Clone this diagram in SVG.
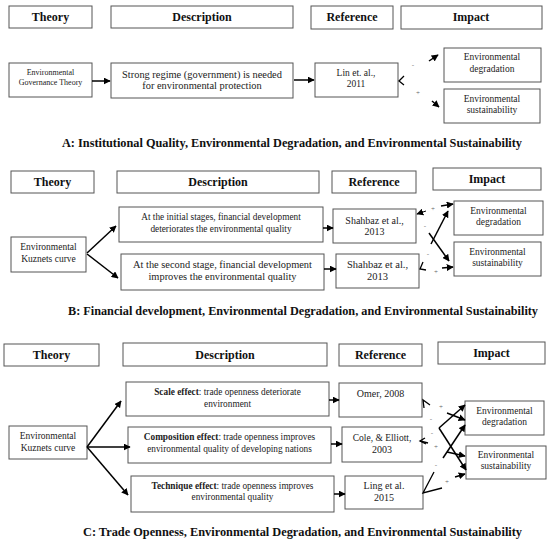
<svg xmlns="http://www.w3.org/2000/svg" width="550" height="542" viewBox="0 0 550 542">
<defs>
<style>
.box{fill:#fff;stroke:#555;stroke-width:1}
.hd{font-family:"Liberation Serif","Times New Roman",serif;font-weight:bold;font-size:12px;text-anchor:middle;fill:#111}
.t{font-family:"Liberation Serif","Times New Roman",serif;text-anchor:middle;fill:#222}
.cap{font-family:"Liberation Serif","Times New Roman",serif;font-weight:bold;font-size:12px;fill:#111}
.ar{stroke:#000;stroke-width:1.5;fill:none;marker-end:url(#ah)}
.ln{stroke:#000;stroke-width:1.3;fill:none}
.sg{font-family:"Liberation Serif",serif;font-size:7px;fill:#666;text-anchor:middle}
</style>
<marker id="ah" viewBox="0 0 10 10" refX="9" refY="5" markerWidth="7" markerHeight="7" markerUnits="userSpaceOnUse" orient="auto">
<path d="M0,0 L10,5 L0,10 z" fill="#000"/>
</marker>
</defs>
<rect width="550" height="542" fill="#fff"/>

<!-- Panel A -->
<g id="A-headers">
<rect class="box" x="9" y="6" width="83" height="22"/><text class="hd" x="50.5" y="21">Theory</text>
<rect class="box" x="111" y="6" width="182" height="22"/><text class="hd" x="202" y="21">Description</text>
<rect class="box" x="311" y="6" width="82" height="23"/><text class="hd" x="352" y="21">Reference</text>
<rect class="box" x="401" y="6" width="141" height="23"/><text class="hd" x="471" y="21">Impact</text>
</g>
<g id="A-theory"><rect class="box" x="9" y="63" width="83" height="34"/>
<text class="t" font-size="8" x="50.5" y="74.5">Environmental</text><text class="t" font-size="8" x="50.5" y="84.5">Governance Theory</text></g>
<g id="A-desc"><rect class="box" x="111" y="63" width="182" height="35"/>
<text class="t" font-size="10.4" x="202" y="77.5">Strong regime (government) is needed</text><text class="t" font-size="10.4" x="202" y="88.5">for environmental protection</text></g>
<g id="A-ref"><rect class="box" x="315" y="63" width="83" height="34"/>
<text class="t" font-size="9.5" x="356" y="76">Lin et. al.,</text><text class="t" font-size="9.5" x="356" y="86.5">2011</text></g>
<g id="A-deg"><rect class="box" x="444" y="48" width="97" height="34"/>
<text class="t" font-size="9.5" x="492" y="60">Environmental</text><text class="t" font-size="9.5" x="492" y="72">degradation</text></g>
<g id="A-sus"><rect class="box" x="444" y="89" width="96" height="34"/>
<text class="t" font-size="9.5" x="492" y="102">Environmental</text><text class="t" font-size="9.5" x="492" y="113">sustainability</text></g>
<text class="cap" x="62" y="147" textLength="460" lengthAdjust="spacingAndGlyphs">A: Institutional Quality, Environmental Degradation, and Environmental Sustainability</text>

<!-- Panel B -->
<g id="B-headers">
<rect class="box" x="11" y="171" width="83" height="22"/><text class="hd" x="52.5" y="186">Theory</text>
<rect class="box" x="117" y="171" width="202" height="22"/><text class="hd" x="218" y="186">Description</text>
<rect class="box" x="332" y="171" width="84" height="22"/><text class="hd" x="374" y="186">Reference</text>
<rect class="box" x="433" y="168" width="108" height="22"/><text class="hd" x="487" y="183">Impact</text>
</g>
<g id="B-theory"><rect class="box" x="11" y="237" width="75" height="35"/>
<text class="t" font-size="9.5" x="48.5" y="250">Environmental</text><text class="t" font-size="9.5" x="48.5" y="262">Kuznets curve</text></g>
<g id="B-desc1"><rect class="box" x="119" y="207" width="204" height="35"/>
<text class="t" font-size="9.3" x="221" y="220">At the initial stages, financial development</text><text class="t" font-size="9.3" x="221" y="231.5">deteriorates the environmental quality</text></g>
<g id="B-desc2"><rect class="box" x="121" y="254" width="203" height="36"/>
<text class="t" font-size="10.4" x="222.5" y="268">At the second stage, financial development</text><text class="t" font-size="10.4" x="222.5" y="280">improves the environmental quality</text></g>
<g id="B-ref1"><rect class="box" x="333" y="209" width="83" height="34"/>
<text class="t" font-size="10" x="374.5" y="223.5">Shahbaz et al.,</text><text class="t" font-size="10" x="374.5" y="235">2013</text></g>
<g id="B-ref2"><rect class="box" x="336" y="254" width="83" height="34"/>
<text class="t" font-size="10.5" x="377.5" y="268">Shahbaz et al.,</text><text class="t" font-size="10.5" x="377.5" y="280">2013</text></g>
<g id="B-deg"><rect class="box" x="454" y="201" width="89" height="34"/>
<text class="t" font-size="9.5" x="498.5" y="214">Environmental</text><text class="t" font-size="9.5" x="498.5" y="224.5">degradation</text></g>
<g id="B-sus"><rect class="box" x="454" y="242" width="87" height="34"/>
<text class="t" font-size="9.5" x="497.5" y="255">Environmental</text><text class="t" font-size="9.5" x="497.5" y="266">sustainability</text></g>
<text class="cap" x="68" y="315" textLength="470" lengthAdjust="spacingAndGlyphs">B: Financial development, Environmental Degradation, and Environmental Sustainability</text>

<!-- Panel C -->
<g id="C-headers">
<rect class="box" x="4" y="344" width="95" height="22"/><text class="hd" x="51.5" y="359">Theory</text>
<rect class="box" x="123" y="343" width="204" height="23"/><text class="hd" x="225" y="359">Description</text>
<rect class="box" x="339" y="344" width="83" height="22"/><text class="hd" x="380.5" y="359">Reference</text>
<rect class="box" x="438" y="342" width="107" height="22"/><text class="hd" x="491.5" y="357">Impact</text>
</g>
<g id="C-theory"><rect class="box" x="9" y="426" width="78" height="33"/>
<text class="t" font-size="9.5" x="48" y="439">Environmental</text><text class="t" font-size="9.5" x="48" y="450.5">Kuznets curve</text></g>
<g id="C-scale"><rect class="box" x="126" y="382" width="203" height="34"/>
<text class="t" font-size="9.3" x="227.5" y="395"><tspan font-weight="bold">Scale effect</tspan>: trade openness deteriorate</text><text class="t" font-size="9.3" x="227.5" y="406.5">environment</text></g>
<g id="C-comp"><rect class="box" x="128" y="427" width="203" height="36"/>
<text class="t" font-size="9.3" x="229.5" y="440"><tspan font-weight="bold">Composition effect</tspan>: trade openness improves</text><text class="t" font-size="9.3" x="229.5" y="451.5">environmental quality of developing nations</text></g>
<g id="C-tech"><rect class="box" x="131" y="476" width="203" height="36"/>
<text class="t" font-size="9.3" x="232.5" y="489"><tspan font-weight="bold">Technique effect</tspan>: trade openness improves</text><text class="t" font-size="9.3" x="232.5" y="499.5">environmental quality</text></g>
<g id="C-ref1"><rect class="box" x="339" y="383" width="83" height="34"/>
<text class="t" font-size="10" x="380.5" y="396.5">Omer, 2008</text></g>
<g id="C-ref2"><rect class="box" x="342" y="427" width="80" height="35"/>
<text class="t" font-size="9.5" x="382" y="440.5">Cole, &amp; Elliott,</text><text class="t" font-size="10" x="382" y="452.5">2003</text></g>
<g id="C-ref3"><rect class="box" x="345" y="476" width="78" height="33"/>
<text class="t" font-size="10" x="384" y="488.5">Ling et al.</text><text class="t" font-size="10" x="384" y="500.5">2015</text></g>
<g id="C-deg"><rect class="box" x="465" y="401" width="79" height="34"/>
<text class="t" font-size="9.5" x="504.5" y="413.5">Environmental</text><text class="t" font-size="9.5" x="504.5" y="424.5">degradation</text></g>
<g id="C-sus"><rect class="box" x="466" y="446" width="80" height="33"/>
<text class="t" font-size="9.5" x="506" y="457.5">Environmental</text><text class="t" font-size="9.5" x="506" y="468.5">sustainability</text></g>
<text class="cap" x="83" y="536" textLength="439" lengthAdjust="spacingAndGlyphs">C: Trade Openness, Environmental Degradation, and Environmental Sustainability</text>

<g id="connectors">
<!-- A -->
<line class="ar" x1="92" y1="81" x2="110" y2="81"/>
<line class="ar" x1="294" y1="80" x2="314" y2="80"/>
<polyline class="ln" points="404,76 399,81 404,85"/>
<line class="ar" x1="429" y1="61" x2="438" y2="55"/>
<line class="ar" x1="432" y1="101" x2="439" y2="107"/>
<text class="sg" x="413" y="67">-</text>
<text class="sg" x="418" y="95">+</text>
<!-- B -->
<line class="ar" x1="87" y1="253" x2="116" y2="226"/>
<line class="ar" x1="87" y1="254" x2="118" y2="278"/>
<line class="ar" x1="323" y1="228" x2="333" y2="228"/>
<line class="ar" x1="324" y1="269" x2="336" y2="269"/>
<line class="ar" x1="426" y1="211" x2="417" y2="214" style="stroke-width:1"/>
<line class="ar" x1="441" y1="206" x2="453" y2="204"/>
<line class="ar" x1="431" y1="244" x2="448" y2="211"/>
<line class="ar" x1="429" y1="233" x2="449" y2="261"/>
<polyline class="ln" points="423,262 420,269 426,270"/>
<line class="ar" x1="442" y1="268" x2="453" y2="267"/>
<text class="sg" x="433" y="211">+</text>
<text class="sg" x="425" y="228">-</text>
<text class="sg" x="428" y="256">-</text>
<text class="sg" x="436" y="274">+</text>
<!-- C -->
<line class="ar" x1="87" y1="447" x2="121" y2="401"/>
<line class="ar" x1="87" y1="447" x2="130" y2="447"/>
<line class="ar" x1="87" y1="447" x2="128" y2="495"/>
<line class="ar" x1="329" y1="400" x2="339" y2="400"/>
<line class="ar" x1="331" y1="444" x2="342" y2="444"/>
<line class="ar" x1="334" y1="494" x2="345" y2="494"/>
<polyline class="ln" points="430,405 423,400 424,408"/>
<line class="ar" x1="447" y1="413" x2="465" y2="420"/>
<line class="ar" x1="439" y1="428" x2="465" y2="405"/>
<line class="ar" x1="439" y1="428" x2="466" y2="470"/>
<polyline class="ln" points="425,438 420,441 426,444"/>
<line class="ln" x1="420" y1="441" x2="428" y2="443"/>
<line class="ar" x1="447" y1="452" x2="465" y2="456"/>
<line class="ar" x1="443" y1="458" x2="465" y2="425"/>
<polyline class="ln" points="434,472 423,493 442,488"/>
<line class="ar" x1="455" y1="477" x2="465" y2="474"/>
<text class="sg" x="441" y="409">+</text>
<text class="sg" x="431" y="421">-</text>
<text class="sg" x="432" y="435">-</text>
<text class="sg" x="436" y="449">+</text>
<text class="sg" x="436" y="467">-</text>
<text class="sg" x="447" y="484">+</text>
</g>
</svg>
